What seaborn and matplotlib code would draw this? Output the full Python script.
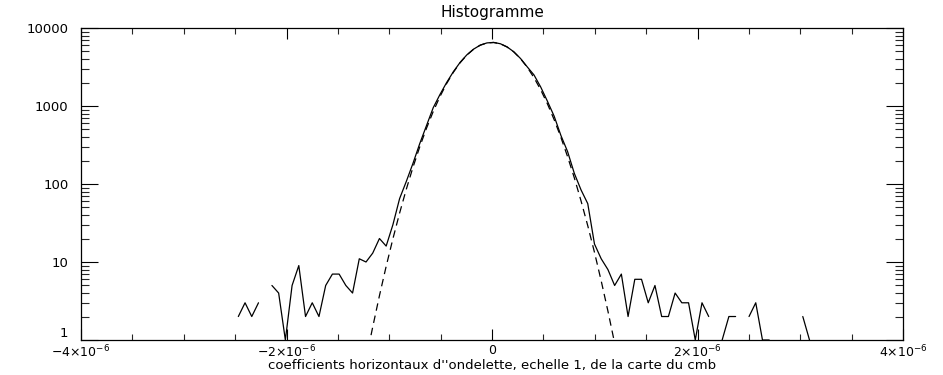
import numpy as np
import pandas as pd
import seaborn as sns
import matplotlib
matplotlib.use("Agg")
import matplotlib.pyplot as plt
from matplotlib.ticker import FixedLocator, FuncFormatter, NullFormatter, MultipleLocator, LogLocator

# Histogram of the wavelet coefficients (counts per bin)
BIN_WIDTH = 0.0654e-6
FIRST_BIN = -38
hist_counts = [
    2, 3, 2, 3, 0, 5, 4, 1, 5, 9,            # bins -38 .. -29
    2, 3, 2, 5, 7, 7, 5, 4, 11, 10,          # bins -28 .. -19
    13, 20, 16, 30, 65, 108, 185, 330, 560, 950,       # -18 .. -9
    1400, 2000, 2750, 3620, 4520, 5350, 6030, 6440, 6530, 6280,  # -8 .. 1
    5720, 4950, 4060, 3170, 2500, 1750, 1150, 740, 420, 260,     # 2 .. 11
    137, 84, 56, 17, 11, 8, 5, 7, 2, 6,      # 12 .. 21
    6, 3, 5, 2, 2, 4, 3, 3, 1, 3,            # 22 .. 31
    2, 0, 1, 2, 2, 0, 2, 3, 1, 1,            # 32 .. 41
    0, 0, 0, 0, 2, 1,                        # 42 .. 47
]

# Gaussian fit (dashed curve), evaluated on the same bins
FIT_FIRST_BIN = -19
fit_counts = [
    0.56, 1.47, 3.7, 8.8, 19.8, 42.4, 85.8, 165, 300, 518,
    849, 1318, 1941, 2705, 3581, 4490, 5333, 6023, 6434, 6520,
    6270, 5703, 4928, 4036, 3133, 2307, 1611, 1065, 668, 397,
    224, 120, 60.7, 29.2, 13.3, 5.73, 2.35, 0.91,
]

x_ticks = [-4e-6, -2e-6, 0, 2e-6, 4e-6]
y_ticks = [1, 10, 100, 1000, 10000]
y_tick_labels = ["1", "10", "100", "1000", "10000"]

TITLE = "Histogramme"
XLABEL = "coefficients horizontaux d''ondelette, echelle 1, de la carte du cmb"


def bin_centers(first, n):
    return (np.arange(first, first + n) + 0.25) * BIN_WIDTH


sns.set_style("ticks")
plt.rcParams["font.family"] = ["DejaVu Sans"]
plt.rcParams["mathtext.fontset"] = "dejavusans"
plt.rcParams["text.color"] = "black"
plt.rcParams["axes.labelcolor"] = "black"

# histogram: zero bins are not drawn (log of 0), so split into runs
hist = pd.DataFrame({"bin": np.arange(FIRST_BIN, FIRST_BIN + len(hist_counts)),
                     "count": hist_counts})
hist["x"] = bin_centers(FIRST_BIN, len(hist_counts))
hist = hist[hist["count"] > 0].copy()
hist["segment"] = (hist["bin"].diff() != 1).cumsum()

fit = pd.DataFrame({"x": bin_centers(FIT_FIRST_BIN, len(fit_counts)),
                    "count": fit_counts})

fig = plt.figure(figsize=(9.43, 3.75), dpi=100)
ax = fig.add_axes([81 / 943, 1 - 340 / 375, (903 - 81) / 943, (340 - 28) / 375])

sns.lineplot(data=hist, x="x", y="count", units="segment", estimator=None,
             color="black", lw=0.9, ax=ax)
sns.lineplot(data=fit, x="x", y="count", color="black", lw=0.9,
             linestyle=(0, (6, 4)), ax=ax)

ax.set_yscale("log")
ax.set_xlim(-4e-6, 4e-6)
ax.set_ylim(1, 10000)

ax.xaxis.set_major_locator(FixedLocator(x_ticks))
ax.xaxis.set_minor_locator(MultipleLocator(0.5e-6))


def xfmt(v, pos):
    m = int(round(v / 1e-6))
    if m == 0:
        return "0"
    return r"$%d{\times}10^{-6}$" % m


ax.xaxis.set_major_formatter(FuncFormatter(xfmt))
ax.yaxis.set_major_locator(FixedLocator(y_ticks))
ax.yaxis.set_major_formatter(FuncFormatter(lambda v, p: y_tick_labels[y_ticks.index(int(round(v)))]
                                           if int(round(v)) in y_ticks else ""))
ax.yaxis.set_minor_locator(LogLocator(base=10, subs=np.arange(2, 10)))
ax.yaxis.set_minor_formatter(NullFormatter())

ax.tick_params(axis="x", which="major", direction="in", length=8, width=0.8,
               top=True, bottom=True, labelsize=9, pad=3, colors="black")
ax.tick_params(axis="x", which="minor", direction="in", length=4, width=0.8,
               top=True, bottom=True)
ax.tick_params(axis="y", which="major", direction="in", length=12, width=0.8,
               left=True, right=True, labelsize=9.5, pad=9, colors="black")
ax.tick_params(axis="y", which="minor", direction="in", length=5.5, width=0.8,
               left=True, right=True)

# the "1" label sits a little above the corner so it clears the x labels
for lbl in ax.get_yticklabels():
    if lbl.get_text() == "1":
        lbl.set_verticalalignment("bottom")

for spine in ax.spines.values():
    spine.set_visible(True)
    spine.set_color("black")
    spine.set_linewidth(0.9)

ax.set_title(TITLE, fontsize=11, pad=8, color="black")
ax.set_xlabel(XLABEL, fontsize=9.5, labelpad=-1)
ax.set_ylabel("")

fig.savefig("out.png", dpi=100)
